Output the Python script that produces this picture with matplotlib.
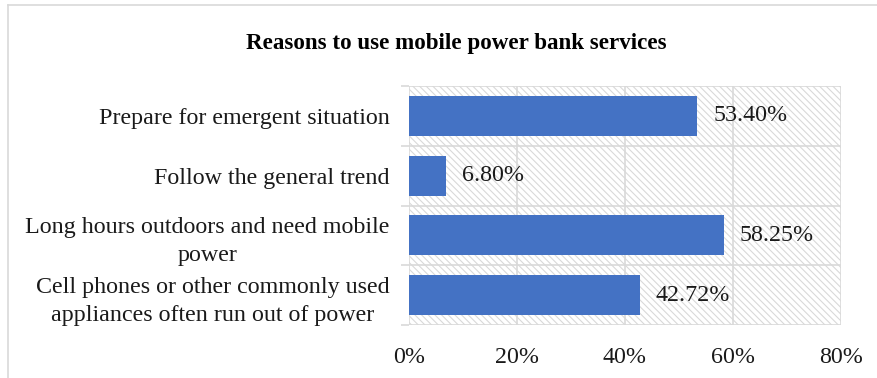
import matplotlib
matplotlib.use("Agg")
import matplotlib.pyplot as plt
from matplotlib.patches import Rectangle
from matplotlib.lines import Line2D

categories = [
    "Cell phones or other commonly used\nappliances often run out of power",
    "Long hours outdoors and need mobile\npower",
    "Follow the general trend",
    "Prepare for emergent situation",
]
values = [42.72, 58.25, 6.80, 53.40]
value_labels = ["42.72%", "58.25%", "6.80%", "53.40%"]
x_ticks = [0, 20, 40, 60, 80]
x_tick_labels = ["0%", "20%", "40%", "60%", "80%"]
title = "Reasons to use mobile power bank services"

plt.rcParams["font.family"] = ["Liberation Serif", "DejaVu Serif"]
plt.rcParams["hatch.linewidth"] = 0.8
plt.rcParams["hatch.color"] = "#d0d0d0"

grid_c = "#d9d9d9"
bar_c = "#4472C4"
txt_c = "#1a1a1a"
fs = 17.3

fig = plt.figure(figsize=(8.78, 3.78), dpi=100)
ax = fig.add_axes([409 / 878, 1 - 325 / 378, (841 - 409) / 878, (325 - 86) / 378])

# hatched plot-area background
ax.add_patch(Rectangle((0, 0), 1, 1, transform=ax.transAxes, facecolor="white",
                       edgecolor=grid_c, hatch="\\\\\\\\\\", linewidth=0, zorder=0))

ypos = list(range(len(categories)))
ax.barh(ypos, values, height=0.667, color=bar_c, zorder=3)

ax.set_xlim(0, 80)
ax.set_ylim(-0.5, len(categories) - 0.5)

# vertical gridlines and category separators
for xt in x_ticks:
    ax.axvline(xt, color=grid_c, lw=1.2, zorder=1)
for b in range(len(categories) + 1):
    ax.axhline(b - 0.5, color=grid_c, lw=1.2, zorder=1)

for s in ax.spines.values():
    s.set_visible(False)

ax.set_xticks(x_ticks)
ax.set_xticklabels(x_tick_labels, fontsize=fs, color=txt_c)
ax.tick_params(axis="x", length=0, pad=16)

ax.set_yticks([b - 0.5 for b in range(len(categories) + 1)], minor=False)
ax.set_yticklabels([])
ax.tick_params(axis="y", length=6, color=grid_c, width=1.2)
ax.set_yticks(ypos, minor=True)
ax.set_yticklabels(categories, minor=True, fontsize=fs, color=txt_c,
                   multialignment="center", linespacing=1.45)
ax.tick_params(axis="y", which="minor", length=0, pad=14)

for y, v, lab in zip(ypos, values, value_labels):
    ax.annotate(lab, (v, y), xytext=(16, 0), textcoords="offset pixels",
                ha="left", va="center", fontsize=fs, color=txt_c, zorder=4)

fig.text((246 + 667) / 2 / 878, 1 - 43 / 378, title, ha="center", va="center",
         fontsize=16.6, fontweight="bold", color="black")

# chart frame
fig.add_artist(Line2D([8 / 878, 1], [1 - 5 / 378] * 2, color=grid_c, lw=1.2,
                      transform=fig.transFigure))
fig.add_artist(Line2D([8 / 878] * 2, [0, 1 - 5 / 378], color=grid_c, lw=1.2,
                      transform=fig.transFigure))

fig.savefig("out.png", dpi=100, facecolor="white")
